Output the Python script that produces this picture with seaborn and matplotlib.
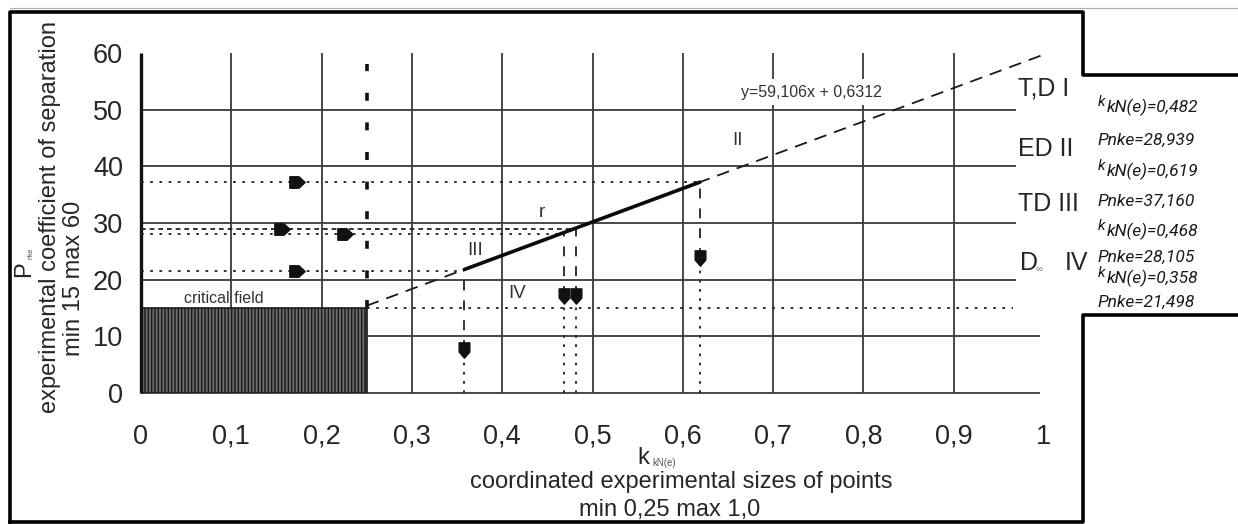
import numpy as np
import pandas as pd
import matplotlib
matplotlib.use("Agg")
import matplotlib.pyplot as plt
from matplotlib.lines import Line2D
from matplotlib.path import Path
from matplotlib.patches import Rectangle
import seaborn as sns

# ---------------- data ----------------
k_values = [0.482, 0.619, 0.468, 0.358]          # coordinated sizes kkN(e)
p_values = [28.939, 37.160, 28.105, 21.498]      # separation coefficients Pnke
slope, intercept = 59.106, 0.6312                # regression y = a*x + b
k_range = [0.25, 1.0]                            # extent of the regression line
k_critical, p_critical = 0.25, 15                # critical field corner
arrow_k_on_level = [0.156, 0.173, 0.226, 0.173]  # right arrows on the horizontal guides
arrow_p_on_drop = [17.2, 23.9, 17.2, 7.6]        # down arrows on the vertical guides
class_labels = ["T,D I", "ED II", "TD III", "IV"]
class_label_p = [53.8, 43.1, 33.4, 22.9]
segment_labels = ["II", "r", "III", "IV"]
segment_label_k = [0.661, 0.444, 0.370, 0.417]
segment_label_p = [44.6, 31.9, 25.2, 17.6]
x_ticks = [0, 0.1, 0.2, 0.3, 0.4, 0.5, 0.6, 0.7, 0.8, 0.9, 1.0]
x_tick_labels = ["0", "0,1", "0,2", "0,3", "0,4", "0,5", "0,6", "0,7", "0,8", "0,9", "1"]
y_ticks = [0, 10, 20, 30, 40, 50, 60]
y_tick_labels = ["0", "10", "20", "30", "40", "50", "60"]


def comma(v, nd):
    return f"{v:.{nd}f}".replace(".", ",")


# ---------------- style ----------------
sns.set_theme(style="white")
plt.rcParams["font.family"] = ["Liberation Sans", "DejaVu Sans"]
plt.rcParams["hatch.linewidth"] = 1.1

W, H = 1238, 524
fig = plt.figure(figsize=(W / 100, H / 100), dpi=100)
fig.patch.set_facecolor("white")


def fx(px):
    return px / W


def fy(py):
    return 1 - py / H


ax = fig.add_axes([fx(141), fy(393), 903 / W, 340 / H])
ax.set_xlim(0, 1)
ax.set_ylim(0, 60)
for s in ax.spines.values():
    s.set_visible(False)

GRID = "#3a3a3a"
TXT = "#262626"
DOT = (0, (1.5, 3.6))

# grid frame
for yv in [20, 30, 40, 50]:
    ax.hlines(yv, 0, 0.969, color=GRID, lw=1.3, clip_on=False, zorder=1)
for yv in [0, 10]:
    ax.hlines(yv, 0, 0.996, color=GRID, lw=1.3, clip_on=False, zorder=1)
for xv in x_ticks[1:-1]:
    ax.vlines(xv, 0, 60, color=GRID, lw=1.3, clip_on=False, zorder=1)
ax.vlines(0, 0, 60, color="#111111", lw=2.4, clip_on=False, zorder=3)

# critical field
ax.add_patch(Rectangle((0, 0), k_critical, p_critical, facecolor="#707070",
                       edgecolor="#1a1a1a", hatch="|||||", lw=1.2, zorder=2))
ax.text(0.092, 16.7, "critical field", fontsize=11.5, color="#333333",
        ha="center", va="center", zorder=4)
ax.vlines(k_critical, p_critical, 58, color="#111111", lw=2.6,
          linestyles=(0, (2.2, 6.0)), clip_on=False, zorder=3)
ax.hlines(p_critical, k_critical, 0.966, color="#222222", lw=1.3,
          linestyles=DOT, zorder=3)

# regression line (dashed) and the fitted segment (solid)
reg = pd.DataFrame({"k": k_range, "p": [slope * k + intercept for k in k_range]})
sns.lineplot(data=reg, x="k", y="p", ax=ax, color="#1a1a1a", lw=1.3,
             linestyle=(0, (7, 4.5)), zorder=4)
seg_k = [min(k_values), max(k_values)]
seg = pd.DataFrame({"k": seg_k, "p": [slope * k + intercept for k in seg_k]})
sns.lineplot(data=seg, x="k", y="p", ax=ax, color="#0a0a0a", lw=2.6, zorder=5)

# arrow-shaped markers
right_arrow = Path([(-1, -0.75), (0.2, -0.75), (1, 0), (0.2, 0.75), (-1, 0.75), (-1, -0.75)],
                   [Path.MOVETO] + [Path.LINETO] * 4 + [Path.CLOSEPOLY])
down_arrow = Path([(-0.7, 1), (-0.7, -0.2), (0, -1), (0.7, -0.2), (0.7, 1), (-0.7, 1)],
                  [Path.MOVETO] + [Path.LINETO] * 4 + [Path.CLOSEPOLY])

level_styles = [(0, (2.6, 2.2)), DOT, DOT, DOT]
for k, p, ak, ap, ls in zip(k_values, p_values, arrow_k_on_level, arrow_p_on_drop, level_styles):
    # horizontal guide to the axis
    ax.hlines(p, 0, k, color="#222222", lw=1.3, linestyles=ls, zorder=3)
    # vertical guide to the axis: dashed above the arrow, dotted below
    ax.vlines(k, ap, p, color="#222222", lw=1.3, linestyles=(0, (5.5, 5.5)), zorder=3)
    ax.vlines(k, 0, ap, color="#222222", lw=1.3, linestyles=DOT, zorder=3)
    ax.plot([ak], [p], ls="none", marker=right_arrow, ms=11, color="#111111", zorder=6)
    ax.plot([k], [ap], ls="none", marker=down_arrow, ms=11, color="#111111", zorder=6)

# equation
ax.text(0.743, 53.1, f"y={comma(slope, 3)}x + {comma(intercept, 4)}", fontsize=11.5,
        color="#333333", ha="center", va="center", zorder=6,
        bbox=dict(facecolor="white", edgecolor="none", pad=4))

for lab, k, p in zip(segment_labels, segment_label_k, segment_label_p):
    ax.text(k, p, lab, fontsize=13.5, color="#333333", ha="center", va="center", zorder=6)

# class labels right of the grid
for lab, p in zip(class_labels[:3], class_label_p[:3]):
    ax.text(0.971, p, lab, fontsize=18, color=TXT, ha="left", va="center", clip_on=False)
ax.text(0.973, class_label_p[3], "D", fontsize=18, color=TXT, ha="left", va="center", clip_on=False)
ax.text(0.991, class_label_p[3] - 1.1, "\u221e", fontsize=7, color="#777777", ha="left",
        va="center", clip_on=False)
ax.text(1.023, class_label_p[3], class_labels[3], fontsize=18, color=TXT, ha="left",
        va="center", clip_on=False)

# ticks
ax.set_xticks(x_ticks, x_tick_labels)
ax.set_yticks(y_ticks, y_tick_labels)
ax.tick_params(axis="x", length=0, pad=22, labelsize=19.5, labelcolor=TXT)
ax.tick_params(axis="y", length=0, pad=13, labelsize=19.5, labelcolor=TXT)
ax.set_xlabel("")
ax.set_ylabel("")

# axis titles
fig.text(fx(50), fy(217), "experimental coefficient of separation", rotation=90,
         fontsize=17, color=TXT, ha="center", va="center")
fig.text(fx(74), fy(278), "min 15 max 60", rotation=90, fontsize=17, color=TXT,
         ha="center", va="center")
fig.text(fx(24), fy(269), "P", rotation=90, fontsize=17, color=TXT, ha="center", va="center")
fig.text(fx(31), fy(253), "nke", rotation=90, fontsize=5, color="#555555",
         ha="center", va="center")

fig.text(fx(643), fy(458), "k", fontsize=17, color=TXT, ha="center", va="center")
fig.text(fx(664), fy(463), "kN(e)", fontsize=7, color="#555555", ha="center", va="center")
fig.text(fx(681), fy(482), "coordinated experimental sizes of points", fontsize=17,
         color=TXT, ha="center", va="center")
fig.text(fx(670), fy(510), "min 0,25 max 1,0", fontsize=17, color=TXT,
         ha="center", va="center")

# value notes
info_font = dict(family=["Roboto", "DejaVu Sans"], style="italic", color="#1a1a1a")
k_rows = [106, 170, 230, 277]
p_rows = [140, 201, 257, 302]
for k, p, yk, yp in zip(k_values, p_values, k_rows, p_rows):
    fig.text(fx(1098), fy(yk - 4), "k", fontsize=11, ha="left", va="center", **info_font)
    fig.text(fx(1107), fy(yk + 1), f"kN(e)={comma(k, 3)}", fontsize=12.5, ha="left",
             va="center", **info_font)
    fig.text(fx(1097), fy(yp), f"Pnke={comma(p, 3)}", fontsize=12.5, ha="left",
             va="center", **info_font)

# outer frame
frame_kw = dict(transform=fig.transFigure, color="#000000", lw=2.6, solid_capstyle="projecting")
fig.add_artist(Line2D([fx(10), fx(10), fx(1083), fx(1083), fx(1238)],
                      [fy(522), fy(12), fy(12), fy(75), fy(75)], **frame_kw))
fig.add_artist(Line2D([fx(10), fx(1083), fx(1083), fx(1238)],
                      [fy(522), fy(522), fy(315), fy(315)], **frame_kw))
fig.add_artist(Line2D([fx(10), fx(1238)], [fy(8), fy(8)], transform=fig.transFigure,
                      color="#b0b0b0", lw=0.8))

fig.savefig("out.png", dpi=100, facecolor="white")
